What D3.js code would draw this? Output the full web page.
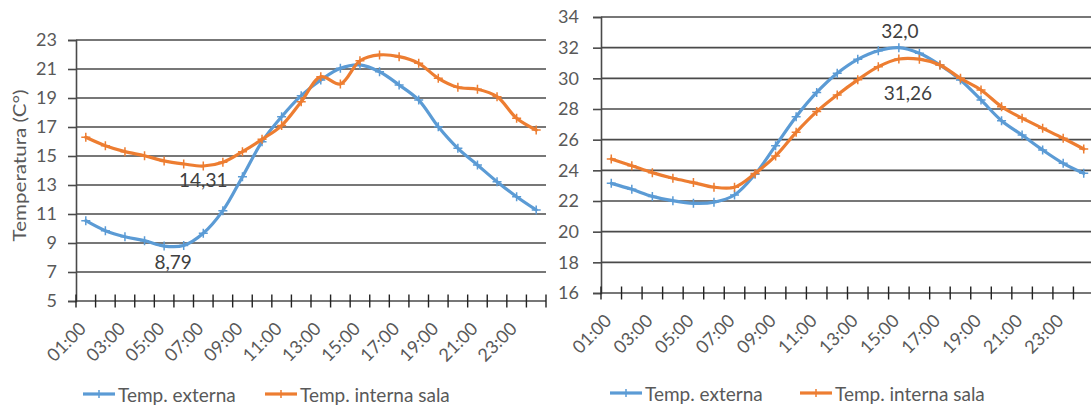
<!DOCTYPE html>
<html>
<head>
<meta charset="utf-8">
<script src="https://cdn.jsdelivr.net/npm/d3@7"></script>
<style>
  html, body { margin: 0; padding: 0; background: #fff; }
  svg { display: block; font-family: Lato, "Open Sans", sans-serif; }
</style>
</head>
<body>
<svg id="chart" width="1091" height="406"></svg>
<script>
// ---------- DATA ----------
const hours = ["01:00","02:00","03:00","04:00","05:00","06:00","07:00","08:00","09:00","10:00","11:00","12:00",
               "13:00","14:00","15:00","16:00","17:00","18:00","19:00","20:00","21:00","22:00","23:00","24:00"];
const shownHours = ["01:00","03:00","05:00","07:00","09:00","11:00","13:00","15:00","17:00","19:00","21:00","23:00"];
const seriesNames = ["Temp. externa", "Temp. interna sala"];

// left chart
const leftExterna = [10.54, 9.85, 9.43, 9.16, 8.79, 8.83, 9.67, 11.23, 13.57, 15.99, 17.71, 19.16,
                     20.24, 21.05, 21.28, 20.81, 19.90, 18.86, 17.02, 15.53, 14.38, 13.23, 12.19, 11.28];
const leftInterna = [16.29, 15.71, 15.30, 15.02, 14.66, 14.45, 14.31, 14.57, 15.30, 16.15, 17.10, 18.74,
                     20.47, 19.97, 21.57, 21.97, 21.85, 21.39, 20.36, 19.74, 19.60, 19.09, 17.60, 16.79];
const leftTicks = [5, 7, 9, 11, 13, 15, 17, 19, 21, 23];
const leftLabels = [{series: 0, index: 4, text: "8,79"}, {series: 1, index: 6, text: "14,31"}];
const leftTitle = "Temperatura (C°)";

// right chart
const rightExterna = [23.15, 22.76, 22.30, 22.02, 21.85, 21.92, 22.39, 23.74, 25.61, 27.50, 29.08, 30.33,
                      31.24, 31.80, 32.00, 31.63, 30.87, 29.89, 28.59, 27.24, 26.30, 25.33, 24.46, 23.81];
const rightInterna = [24.74, 24.30, 23.85, 23.48, 23.20, 22.90, 22.90, 23.80, 24.94, 26.48, 27.83, 28.92,
                      29.90, 30.76, 31.26, 31.25, 30.87, 30.00, 29.24, 28.15, 27.40, 26.74, 26.09, 25.39];
const rightTicks = [16, 18, 20, 22, 24, 26, 28, 30, 32, 34];
const rightLabels = [{series: 0, index: 14, text: "32,0"}, {series: 1, index: 14, text: "31,26"}];

// ---------- STYLE ----------
const colors = ["#5B9BD5", "#ED7D31"];
const gridColor = "#4a4a4a";
const textColor = "#595959";

const svg = d3.select("#chart");

function drawChart(cfg) {
  const g = svg.append("g");
  const x = d3.scaleBand().domain(hours).range([cfg.left, cfg.right]);
  const y = d3.scaleLinear().domain([cfg.ticks[0], cfg.ticks[cfg.ticks.length - 1]]).range([cfg.bottom, cfg.top]);

  // gridlines
  g.append("g").selectAll("line").data(cfg.ticks.slice(1)).join("line")
    .attr("x1", cfg.left).attr("x2", cfg.right)
    .attr("y1", d => y(d)).attr("y2", d => y(d))
    .attr("stroke", gridColor).attr("stroke-width", 1.6);

  // y axis
  const yAxis = g.append("g").attr("transform", `translate(${cfg.left},0)`)
    .call(d3.axisLeft(y).tickValues(cfg.ticks).tickSize(8).tickPadding(cfg.tickPad).tickFormat(d3.format("d")));
  yAxis.select(".domain").attr("stroke", gridColor).attr("stroke-width", 1.6);
  yAxis.selectAll(".tick line").attr("stroke", gridColor).attr("stroke-width", 1.6);
  yAxis.selectAll(".tick text").attr("fill", textColor).attr("font-size", 18).attr("font-family", "Lato");

  // x axis
  const xAxis = g.append("g").attr("transform", `translate(0,${cfg.bottom})`);
  xAxis.append("line").attr("x1", cfg.left).attr("x2", cfg.right)
    .attr("stroke", gridColor).attr("stroke-width", 1.6);
  const bounds = d3.range(hours.length + 1).map(i => i < hours.length ? x(hours[i]) : cfg.right);
  xAxis.selectAll("line.tk").data(bounds).join("line").attr("class", "tk")
    .attr("x1", d => d).attr("x2", d => d).attr("y1", -6.5).attr("y2", 6.5)
    .attr("stroke", "#222").attr("stroke-width", 1.4);
  xAxis.selectAll("text").data(shownHours).join("text")
    .attr("transform", d => `translate(${x(d) + x.bandwidth() / 2 - 3.5},${24}) rotate(-45)`)
    .attr("text-anchor", "end").attr("dominant-baseline", "central")
    .attr("fill", textColor).attr("font-size", 18)
    .text(d => d);

  // lines
  const line = d3.line().x((d, i) => x(hours[i]) + x.bandwidth() / 2).y(d => y(d))
    .curve(d3.curveCatmullRom.alpha(0.5));
  const marker = "M-4.5,0H4.5M0,-4.5V4.5";
  cfg.series.forEach((vals, si) => {
    g.append("path").datum(vals).attr("d", line)
      .attr("fill", "none").attr("stroke", colors[si]).attr("stroke-width", 3.2)
      .attr("stroke-linejoin", "round").attr("stroke-linecap", "round");
    g.append("g").selectAll("path").data(vals).join("path")
      .attr("transform", (d, i) => `translate(${x(hours[i]) + x.bandwidth() / 2},${y(d)})`)
      .attr("d", marker).attr("stroke", colors[si]).attr("stroke-width", 1.5);
  });

  // data labels
  g.append("g").selectAll("text").data(cfg.labels).join("text")
    .attr("x", (d, k) => x(hours[d.index]) + x.bandwidth() / 2 + cfg.labelOffsets[k][0])
    .attr("y", (d, k) => y(cfg.series[d.series][d.index]) + cfg.labelOffsets[k][1])
    .attr("text-anchor", "middle").attr("dominant-baseline", "central")
    .attr("fill", "#404040").attr("font-size", 19)
    .text(d => d.text);

  // legend
  const lg = g.append("g").attr("transform", `translate(0,${cfg.legendY})`);
  cfg.legendX.forEach((lx, si) => {
    lg.append("line").attr("x1", lx).attr("x2", lx + 32).attr("y1", 0).attr("y2", 0)
      .attr("stroke", colors[si]).attr("stroke-width", 3.2);
    lg.append("path").attr("d", `M${lx + 16},-4V4`).attr("stroke", colors[si]).attr("stroke-width", 1.5);
    lg.append("text").attr("x", lx + 35).attr("y", 0).attr("dominant-baseline", "central")
      .attr("fill", textColor).attr("font-size", 19).text(seriesNames[si]);
  });

  if (cfg.title) {
    g.append("text").attr("transform", `translate(${cfg.titleX},${(cfg.top + cfg.bottom) / 2 - 5}) rotate(-90)`)
      .attr("text-anchor", "middle").attr("dominant-baseline", "central")
      .attr("fill", textColor).attr("font-size", 18)
      .attr("textLength", 152).attr("lengthAdjust", "spacingAndGlyphs")
      .text(cfg.title);
  }
}

drawChart({
  left: 76, right: 546, top: 40, bottom: 301, tickPad: 11,
  ticks: leftTicks, series: [leftExterna, leftInterna], labels: leftLabels,
  labelOffsets: [[9, 15], [0, 13]],
  legendX: [83, 265], legendY: 394, title: leftTitle, titleX: 19
});
drawChart({
  left: 601, right: 1094, top: 17, bottom: 293, tickPad: 14,
  ticks: rightTicks, series: [rightExterna, rightInterna], labels: rightLabels,
  labelOffsets: [[1, -17], [9, 33]],
  legendX: [610, 800], legendY: 393
});
</script>
</body>
</html>
